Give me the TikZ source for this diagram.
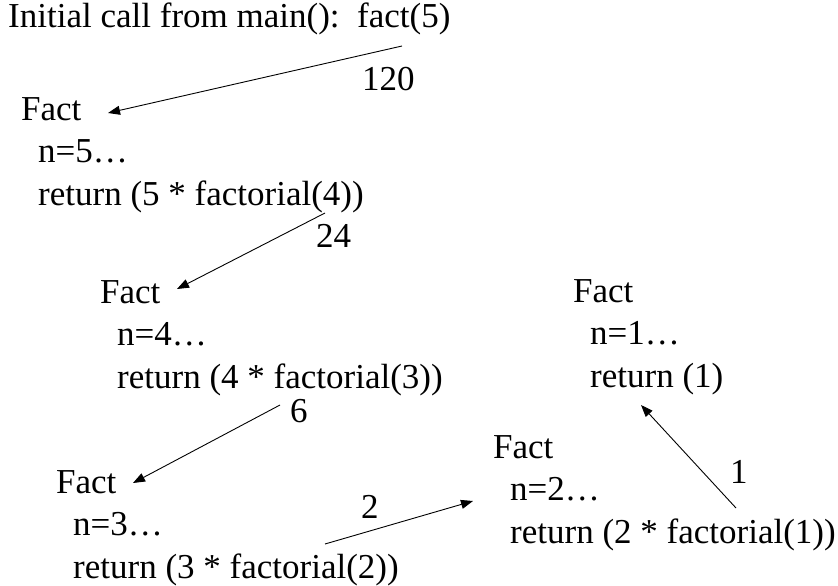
\documentclass[tikz,border=0pt]{standalone}
\usepackage{fontspec}
\setmainfont{Liberation Serif}
\usetikzlibrary{arrows.meta}
\tikzset{frame/.style={anchor=base west,inner sep=0pt,align=left,font=\fontsize{35}{42.5}\selectfont}, val/.style={anchor=base west,inner sep=0pt,font=\fontsize{35}{42.5}\selectfont}, ret/.style={-{Triangle[length=12pt,width=9pt]},line width=0.9pt}}
\newcommand{\ind}{\hspace*{17pt}}
\begin{document}
\begin{tikzpicture}[x=1pt,y=-1pt]
\useasboundingbox (0,0) rectangle (838,586);
\node[val] (start) at (8,28) {Initial call from main():\ \ fact(5)};
% base anchor = baseline of the last line
\node[frame] (call5) at (21,205) {Fact\\\ind n=5…\\\ind return (5 * factorial(4))};
\node[frame] (call4) at (100,388) {Fact\\\ind n=4…\\\ind return (4 * factorial(3))};
\node[frame] (call3) at (56,578) {Fact\\\ind n=3…\\\ind return (3 * factorial(2))};
\node[frame] (call2) at (493,543) {Fact\\\ind n=2…\\\ind return (2 * factorial(1))};
\node[frame] (call1) at (573,387) {Fact\\\ind n=1…\\\ind return (1)};
\node[val] (v120) at (362,90) {120};
\node[val] (v24) at (316,247) {24};
\node[val] (v6) at (290,422) {6};
\node[val] (v2) at (361,518) {2};
\node[val] (v1) at (730,483) {1};
% return paths
\coordinate (t5) at (402,46);  \coordinate (h5) at (108,113);
\coordinate (t4) at (325,213); \coordinate (h4) at (177,289);
\coordinate (t3) at (280,405); \coordinate (h3) at (133,483);
\coordinate (t2) at (325,544); \coordinate (h2) at (473,501);
\coordinate (t1) at (736,508); \coordinate (h1) at (641,405);
\draw[ret] (t5)--(h5);
\draw[ret] (t4)--(h4);
\draw[ret] (t3)--(h3);
\draw[ret] (t2)--(h2);
\draw[ret] (t1)--(h1);
\end{tikzpicture}
\end{document}
